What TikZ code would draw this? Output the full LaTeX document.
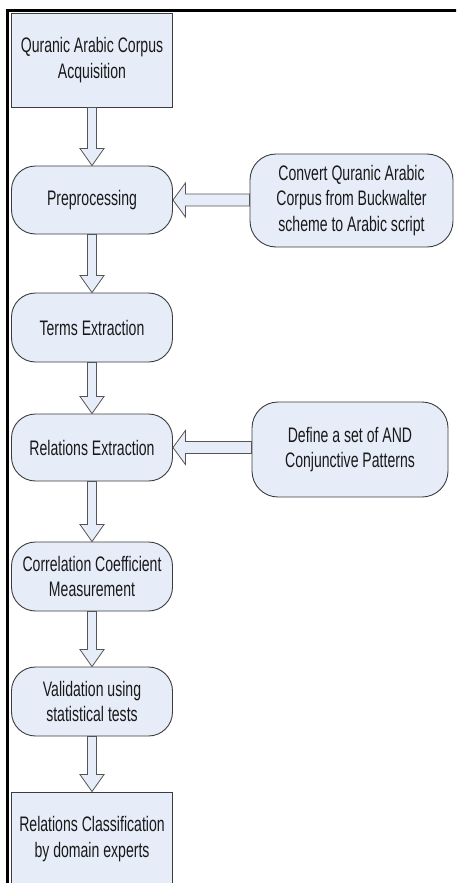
\documentclass[tikz,border=0pt]{standalone}
\usepackage{fontspec}
\setmainfont[FakeStretch=0.67]{Liberation Sans}
\usetikzlibrary{calc}
\definecolor{boxfill}{RGB}{231,237,248}
\definecolor{boxline}{RGB}{60,60,60}
\definecolor{arrline}{RGB}{85,85,85}
\definecolor{txt}{RGB}{25,25,25}
\tikzset{
  base/.style={draw=boxline, fill=boxfill, line width=0.9pt, inner sep=0pt, align=center,
    text=txt, font=\fontsize{21}{25.5}\selectfont},
  rectbox/.style={base, minimum width=161pt, minimum height=94pt},
  roundbox/.style={base, rounded corners=24pt, minimum width=161pt},
  sidebox/.style={base, rounded corners=26pt},
  fatarrow/.style={draw=arrline, fill=boxfill, line width=0.8pt, line join=miter},
  frameline/.style={line width=3pt, black}
}
\newcommand{\vfat}[2]{%
  \draw[fatarrow] let \p1=(#1.south), \p2=(#2.north) in
    (\x1-4.5pt,\y1) -- (\x1-4.5pt,\y2+17pt) -- (\x1-12pt,\y2+17pt) -- (\x1,\y2)
    -- (\x1+12pt,\y2+17pt) -- (\x1+4.5pt,\y2+17pt) -- (\x1+4.5pt,\y1) -- cycle;}
\newcommand{\hfat}[2]{%
  \draw[fatarrow] let \p1=(#1.west), \p2=(#2.east) in
    (\x1,\y2+6pt) -- (\x2+12.5pt,\y2+6pt) -- (\x2+12.5pt,\y2+17pt) -- (\x2,\y2)
    -- (\x2+12.5pt,\y2-17pt) -- (\x2+12.5pt,\y2-6pt) -- (\x1,\y2-6pt) -- cycle;}
\begin{document}
\begin{tikzpicture}[x=1pt,y=-1pt]
\useasboundingbox (0,0) rectangle (456,883);
\clip (0,0) rectangle (456,883);
\fill[white] (0,0) rectangle (456,883);
\draw[frameline] (460,10.5) -- (7.5,10.5) -- (7.5,890);

\node[rectbox] (acq) at (92,60) {Quranic Arabic Corpus\\Acquisition};
\node[roundbox, minimum height=68pt] (pre) at (92,200) {Preprocessing};
\node[roundbox, minimum height=69pt] (terms) at (92,327.5) {Terms Extraction};
\node[roundbox, minimum height=67pt] (rel) at (92,447.5) {Relations Extraction};
\node[roundbox, minimum height=69pt] (corr) at (92,576.5) {Correlation Coefficient\\Measurement};
\node[roundbox, minimum height=69pt] (val) at (92,701.5) {Validation using\\statistical tests};
\node[rectbox] (cls) at (92,839) {Relations Classification\\by domain experts};

\node[sidebox, minimum width=203pt, minimum height=93pt] (conv) at (351.5,200.5)
  {Convert Quranic Arabic\\Corpus from Buckwalter\\scheme to Arabic script};
\node[sidebox, minimum width=196pt, minimum height=95pt] (def) at (350,449.5)
  {Define a set of AND\\Conjunctive Patterns};

\vfat{acq}{pre}
\vfat{pre}{terms}
\vfat{terms}{rel}
\vfat{rel}{corr}
\vfat{corr}{val}
\vfat{val}{cls}
\hfat{conv}{pre}
\hfat{def}{rel}
\end{tikzpicture}
\end{document}
